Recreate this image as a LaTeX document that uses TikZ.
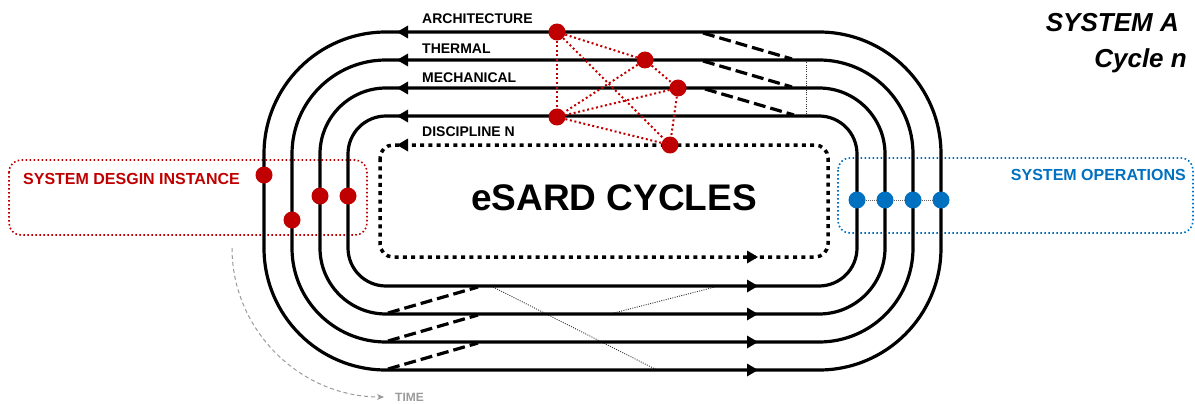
\documentclass[tikz,border=0pt]{standalone}
\usepackage{fontspec}
\setmainfont{Liberation Sans}
\usetikzlibrary{arrows.meta}
\definecolor{dred}{HTML}{C00000}
\definecolor{dblue}{HTML}{0070C0}
\definecolor{tgray}{HTML}{9A9A9A}
\tikzset{
  track/.style={line width=3.2pt},
  dottrack/.style={line width=3.5pt, dash pattern=on 4pt off 4.3pt},
  bdash/.style={line width=3.2pt, dash pattern=on 12pt off 5pt},
  thindot/.style={line width=0.9pt, dash pattern=on 1pt off 1.3pt, black!80},
  rlink/.style={dred, line width=2pt, dash pattern=on 2pt off 2.6pt},
  rdot/.style={circle, fill=dred, inner sep=0pt, minimum size=17pt},
  bdot/.style={circle, fill=dblue, inner sep=0pt, minimum size=17pt},
  rbox/.style={dred, line width=1.6pt, dash pattern=on 1.6pt off 2.4pt, rounded corners=12pt},
  bbox/.style={dblue, line width=1.6pt, dash pattern=on 1.6pt off 2.4pt, rounded corners=12pt},
  lbl/.style={font=\fontsize{14}{16}\selectfont\bfseries, anchor=west, inner sep=0pt},
  boxlbl/.style={font=\fontsize{16}{18}\selectfont\bfseries, inner sep=0pt},
  ttl/.style={font=\fontsize{26}{30}\selectfont\bfseries\itshape, anchor=base east, inner sep=0pt},
}
\newcommand{\larr}[2]{\fill (#1,#2) -- ++(11,-6.5) -- ++(0,13) -- cycle;}
\newcommand{\rarr}[2]{\fill (#1,#2) -- ++(-11,-6.5) -- ++(0,13) -- cycle;}
\begin{document}
\begin{tikzpicture}[x=1pt,y=-1pt]
\useasboundingbox (0,0) rectangle (1195,404);
% boxes
\draw[rbox] (9,160) rectangle (367,235);
\draw[bbox] (838,158) rectangle (1193,233);
\node[boxlbl, dred, anchor=west] (sdi) at (23,179) {SYSTEM DESGIN INSTANCE};
\node[boxlbl, dblue, anchor=east] (sop) at (1186,175) {SYSTEM OPERATIONS};
% time arrow
\coordinate (t0) at (232,248);
\coordinate (t1) at (384,397);
\draw[tgray, line width=1pt, dash pattern=on 4pt off 3pt, -{Stealth[length=7pt,width=6pt]}] (t0) .. controls (232,330) and (300,397) .. (t1);
\node[font=\fontsize{12}{14}\selectfont\bfseries, text=tgray, anchor=west, inner sep=0pt] (time) at (395,397) {TIME};
% thin dotted guides
\coordinate (g1) at (806,60); \coordinate (g2) at (806,117);
\draw[thindot] (g1) -- (g2);
\coordinate (g3) at (493,287); \coordinate (g4) at (657,370);
\draw[thindot] (g3) -- (g4);
\coordinate (g5) at (610,314); \coordinate (g6) at (715,287);
\draw[thindot] (g5) -- (g6);
% tracks
\draw[track, rounded corners=122pt] (264,32) rectangle (941,370);
\draw[track, rounded corners=94pt] (292,60) rectangle (913,342);
\draw[track, rounded corners=66pt] (320,88) rectangle (885,314);
\draw[track, rounded corners=38pt] (348,116) rectangle (857,286);
\draw[dottrack, rounded corners=13pt] (380,145) rectangle (828,257);
% dashed transfers
\coordinate (d1a) at (703,33); \coordinate (d1b) at (792,59);
\coordinate (d2a) at (703,61); \coordinate (d2b) at (792,87);
\coordinate (d3a) at (705,89); \coordinate (d3b) at (794,115);
\draw[bdash] (d1a) -- (d1b);
\draw[bdash] (d2a) -- (d2b);
\draw[bdash] (d3a) -- (d3b);
\coordinate (e1a) at (388,313); \coordinate (e1b) at (478,287);
\coordinate (e2a) at (388,341); \coordinate (e2b) at (478,315);
\coordinate (e3a) at (388,369); \coordinate (e3b) at (478,343);
\draw[bdash] (e1a) -- (e1b);
\draw[bdash] (e2a) -- (e2b);
\draw[bdash] (e3a) -- (e3b);
% arrows
\larr{397}{32}\larr{397}{60}\larr{397}{88}\larr{397}{116}\larr{397}{145}
\rarr{758}{257}\rarr{758}{286}\rarr{758}{314}\rarr{758}{342}\rarr{758}{370}
% labels
\node[lbl] (la) at (422,19) {ARCHITECTURE};
\node[lbl] (lt) at (422,49) {THERMAL};
\node[lbl] (lm) at (422,78) {MECHANICAL};
\node[lbl] (ld) at (422,132) {DISCIPLINE N};
\node[font=\fontsize{37}{40}\selectfont\bfseries, inner sep=0pt] (es) at (614,198) {eSARD CYCLES};
\node[ttl] (sa) at (1179,32) {SYSTEM A};
\node[ttl] (cn) at (1187,67) {Cycle n};
% red network
\node[rdot] (A) at (557,32) {};
\node[rdot] (B) at (645,60) {};
\node[rdot] (C) at (678,88) {};
\node[rdot] (D) at (557,117) {};
\node[rdot] (E) at (670,145) {};
\draw[rlink] (A) -- (B);
\draw[rlink] (A) -- (D);
\draw[rlink] (A) -- (E);
\draw[rlink] (B) -- (C);
\draw[rlink] (B) -- (D);
\draw[rlink] (C) -- (D);
\draw[rlink] (C) -- (E);
\draw[rlink] (D) -- (E);
% left red dots
\node[rdot] (s1) at (264,175) {};
\node[rdot] (s2) at (292,220) {};
\node[rdot] (s3) at (320,196) {};
\node[rdot] (s4) at (348,196) {};
% blue dots
\node[bdot] (o1) at (857,200) {};
\node[bdot] (o2) at (885,200) {};
\node[bdot] (o3) at (913,200) {};
\node[bdot] (o4) at (941,200) {};
\draw[line width=1pt, dash pattern=on 1pt off 1pt, black!60] (o1) -- (o2);
\draw[line width=1pt, dash pattern=on 1pt off 1pt, black!60] (o2) -- (o3);
\draw[line width=1pt, dash pattern=on 1pt off 1pt, black!60] (o3) -- (o4);
\end{tikzpicture}
\end{document}
